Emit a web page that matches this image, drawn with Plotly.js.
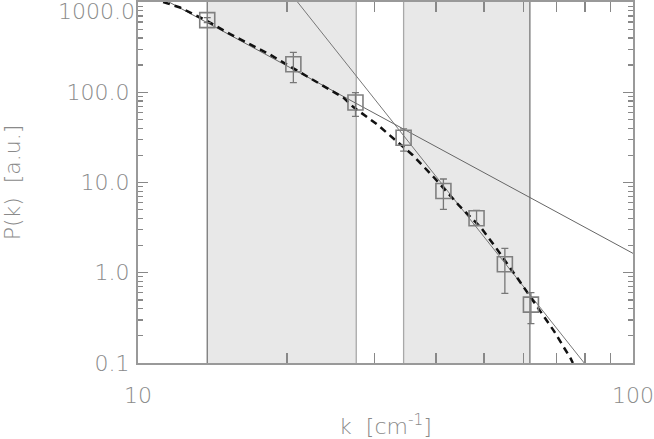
<!DOCTYPE html>
<html>
<head>
<meta charset="utf-8">
<script src="https://cdn.plot.ly/plotly-3.0.1.min.js"></script>
<style>html,body{margin:0;padding:0;background:#fff;}#plot{width:654px;height:439px;}</style>
</head>
<body>
<div id="plot"></div>
<script>
// Measured spectrum points
const kData = [13.8, 20.6, 27.5, 34.4, 41.4, 48.3, 55.1, 62.2];
const pData = [630, 204, 77, 31.3, 8.04, 4.02, 1.24, 0.443];
const errPlus = [40, 73, 22, 8, 2.9, 0.9, 0.62, 0.16];
const errMinus = [40, 76, 23, 9, 3.0, 0.65, 0.65, 0.17];

// Fit ranges (shaded bands)
const band1 = [13.8, 27.6];
const band2 = [34.4, 61.9];

// Power-law fit lines (end points)
const fitLowK = [11.55, 100];
const fitLowP = [1000, 1.64];
const fitHighK = [21.0, 79.7];
const fitHighP = [1000, 0.1];

// Dashed model curve
const modelK = [11.24, 12.16, 13.80, 15.36, 18.33, 20.79, 23.36, 26.0, 27.24, 30.46, 33.6, 35.86, 39.55, 44.45, 49.24, 52.8, 58.5, 64.2, 69.2, 74.9, 75.6];
const modelP = [1000, 870, 615, 440, 268, 180, 124, 87, 68.5, 43.7, 27.5, 20.2, 11.5, 5.61, 3.19, 1.91, 0.863, 0.41, 0.227, 0.111, 0.1];

// Axis ticks
const yTickVals = [0.1, 1, 10, 100];
const yTickText = ['0.1', '1.0', '10.0', '100.0'];
const yTopVal = [1000];
const yTopText = ['1000.0'];
const xTickVals = [10, 100];
const xTickText = ['10', '100'];

const yLow = 0.01, yHigh = 10000;
function bandTrace(b) {
  return {x: [b[0], b[1], b[1], b[0], b[0]], y: [yLow, yLow, yHigh, yHigh, yLow],
    mode: 'lines', fill: 'toself', fillcolor: '#e8e8e8', line: {width: 0}, hoverinfo: 'skip', showlegend: false};
}
function vline(x, c) {
  return {x: [x, x], y: [yLow, yHigh], mode: 'lines', line: {color: c, width: 1.3}, hoverinfo: 'skip', showlegend: false};
}
function minorVals(lo, hi) {
  const v = [];
  for (let d = lo; d < hi; d++) for (let m = 2; m <= 9; m++) v.push(m * Math.pow(10, d));
  return v;
}

const traces = [
  bandTrace(band1), bandTrace(band2),
  vline(band1[0], '#777'), vline(band1[1], '#a8a8a8'),
  vline(band2[0], '#a8a8a8'), vline(band2[1], '#777'),
  {x: fitLowK, y: fitLowP, mode: 'lines', line: {color: '#666', width: 1}, showlegend: false},
  {x: fitHighK, y: fitHighP, mode: 'lines', line: {color: '#777', width: 1}, showlegend: false},
  {x: modelK, y: modelP, mode: 'lines', line: {color: '#111', width: 2.5, dash: '7px,5px'}, showlegend: false},
  {x: kData, y: pData, mode: 'markers', showlegend: false,
   marker: {symbol: 'square-open', size: 15, color: '#808080', line: {width: 1.6, color: '#808080'}},
   error_y: {type: 'data', symmetric: false, array: errPlus, arrayminus: errMinus, color: '#777', thickness: 1.3, width: 3.5}},
  {x: [], y: [], yaxis: 'y2', mode: 'markers', showlegend: false, hoverinfo: 'skip'}
];

const axFont = {family: 'DejaVu Sans', size: 22, color: '#8a8a8a', weight: 200};
const layout = {
  width: 654, height: 439,
  margin: {l: 138, r: 21, t: 2, b: 76},
  paper_bgcolor: '#fff', plot_bgcolor: '#fff',
  font: axFont,
  xaxis: {
    type: 'log', range: [1, 2], showgrid: false, zeroline: false,
    showline: true, linecolor: '#999', linewidth: 2, mirror: 'allticks',
    ticks: 'inside', ticklen: 10, tickwidth: 1.2, tickcolor: '#888',
    tickmode: 'array', tickvals: xTickVals, ticktext: xTickText,
    tickfont: axFont, ticklabelstandoff: 12,
    minor: {tickmode: 'array', tickvals: minorVals(1, 2), ticks: 'inside', ticklen: 5, tickwidth: 1.2, tickcolor: '#888', showgrid: false},
    title: {text: 'k  [cm<sup>-1</sup>]', font: axFont, standoff: 14}
  },
  yaxis: {
    type: 'log', range: [-1, 3], showgrid: false, zeroline: false,
    showline: true, linecolor: '#999', linewidth: 2, mirror: 'allticks',
    ticks: 'inside', ticklen: 10, tickwidth: 1.2, tickcolor: '#888',
    tickmode: 'array', tickvals: yTickVals, ticktext: yTickText,
    tickfont: axFont, ticklabelstandoff: 2,
    minor: {tickmode: 'array', tickvals: minorVals(-1, 3), ticks: 'inside', ticklen: 5, tickwidth: 1.2, tickcolor: '#888', showgrid: false},
    title: {text: 'P(k)  [a.u.]', font: axFont, standoff: 40}
  },
  yaxis2: {
    type: 'log', range: [-1, 3], overlaying: 'y', side: 'left', anchor: 'x',
    showgrid: false, zeroline: false, showline: false, ticks: '',
    tickmode: 'array', tickvals: yTopVal, ticktext: yTopText,
    tickfont: axFont, ticklabelstandoff: 2, ticklabelshift: 9, ticklabeloverflow: 'allow'
  }
};
Plotly.newPlot('plot', traces, layout, {staticPlot: true});
</script>
</body>
</html>
